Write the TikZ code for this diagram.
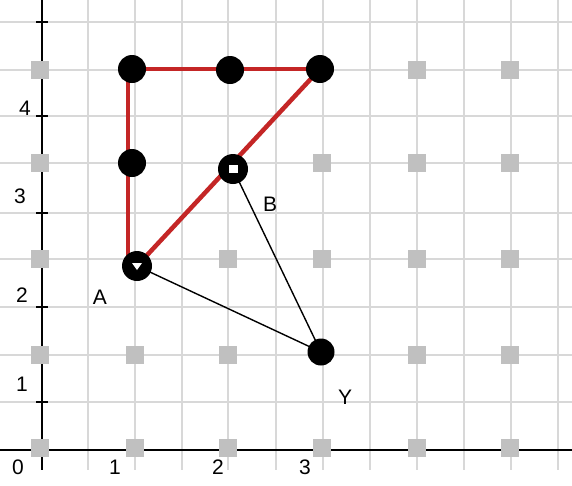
\documentclass[tikz,border=0pt]{standalone}
\usepackage{fontspec}
\setmainfont{Liberation Sans}
\usetikzlibrary{calc}
\definecolor{gridc}{RGB}{216,216,216}
\definecolor{sqc}{RGB}{192,192,192}
\definecolor{redc}{RGB}{196,38,38}
\tikzset{
  gridline/.style={draw=gridc,line width=2pt},
  axisline/.style={draw=black,line width=1.8pt},
  sq/.style={fill=sqc,draw=none,minimum size=18pt,inner sep=0pt,rectangle},
  dot/.style={circle,fill=black,minimum size=28pt,inner sep=0pt},
  ring/.style={circle,fill=black,minimum size=30pt,inner sep=0pt},
  redline/.style={draw=redc,line width=4.5pt},
  thin/.style={draw=black,line width=1.4pt},
  lab/.style={font=\fontsize{21}{25}\selectfont,inner sep=0pt},
}
\begin{document}
\begin{tikzpicture}[x=1pt,y=-1pt]
\useasboundingbox (0,0) rectangle (572,485);
\fill[white] (0,0) rectangle (572,485);
% grid
\foreach \x in {88,135,182,228,276,323,370,417,464,511,558}
  \draw[gridline] (\x,0) -- (\x,470);
\foreach \y in {22,70,116,163,213,259,307,355,402}
  \draw[gridline] (0,\y) -- (572,\y);
% axes
\draw[axisline] (0,450) -- (572,450);
\draw[axisline] (42,0) -- (42,470);
\foreach \y in {22,116,213,307,402}
  \draw[line width=1.5pt] (36,\y) -- (48,\y);
% axis labels
\node[lab] (ly4) at (25,108) {4};
\node[lab] (ly3) at (20,196) {3};
\node[lab] (ly2) at (22,295) {2};
\node[lab] (ly1) at (22,384) {1};
\node[lab] (lx0) at (18,467) {0};
\node[lab] (lx1) at (115,467) {1};
\node[lab] (lx2) at (218,467) {2};
\node[lab] (lx3) at (305,467) {3};
% grey squares
\foreach \x/\y [count=\i] in {40/70,40/163,40/259,40/355,40/448,
  135/355,135/448,228/259,228/355,228/448,
  322/163,322/259,322/448,
  417/70,417/163,417/259,417/355,417/448,
  510/70,510/163,510/259,510/355,510/448}
  \node[sq] (s\i) at (\x,\y) {};
% points
\coordinate (P1) at (132,69);
\coordinate (P2) at (230,70);
\coordinate (P3) at (320,69);
\coordinate (P4) at (132,163);
\coordinate (B) at (233,169);
\coordinate (A) at (137,266);
\coordinate (Y) at (321,352);
\coordinate (V) at (128,262);
\coordinate (VT) at (128,69);
% red triangle
\draw[redline] (VT) -- (P3);
\draw[redline] (VT) -- (V);
\draw[redline] (A) -- (P3);
% thin lines
\draw[thin] (A) -- (Y);
\draw[thin] (B) -- (Y);
% dots
\node[dot] (d1) at (P1) {};
\node[dot] (d2) at (P2) {};
\node[dot] (d3) at (P3) {};
\node[dot] (d4) at (P4) {};
\node[dot,minimum size=27pt] (dY) at (Y) {};
\node[ring] (dB) at (B) {};
\fill[white] ($(B)+(-4.5,-4)$) rectangle ($(B)+(4.5,4)$);
\node[ring] (dA) at (A) {};
\fill[white] ($(A)+(-5,-3)$) -- ($(A)+(5,-3)$) -- ($(A)+(0,4)$) -- cycle;
% labels
\node[lab] (lA) at (100,297) {A};
\node[lab] (lB) at (270,204) {B};
\node[lab] (lY) at (345,397) {Y};
\end{tikzpicture}
\end{document}
